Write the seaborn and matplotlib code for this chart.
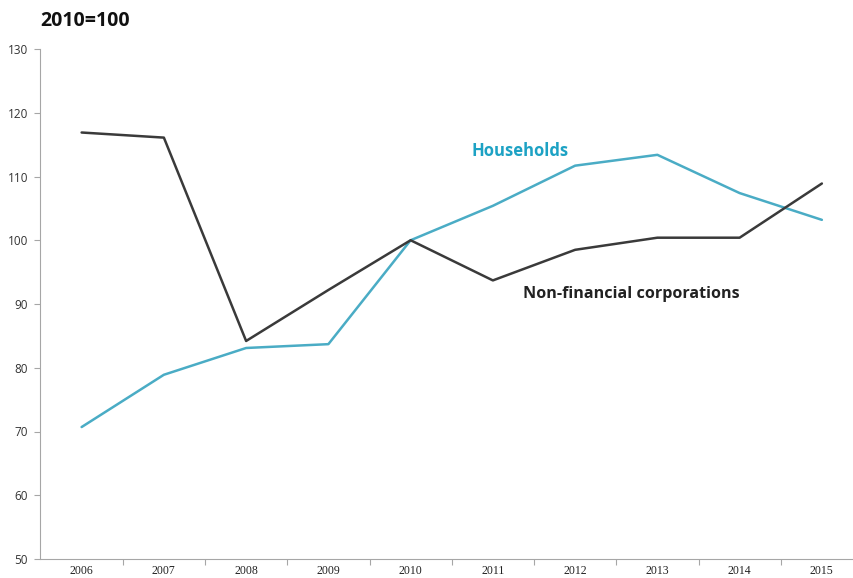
import numpy as np
import pandas as pd
from matplotlib import pyplot as plt
import seaborn as sns
from matplotlib.ticker import FixedLocator

years = ["2006", "2007", "2008", "2009", "2010", "2011", "2012", "2013", "2014", "2015"]
households = [70.7, 78.9, 83.1, 83.7, 100.0, 105.4, 111.7, 113.4, 107.4, 103.2]
non_financial = [116.9, 116.1, 84.2, 92.2, 100.0, 93.7, 98.5, 100.4, 100.4, 108.9]
series_names = ["Households", "Non-financial corporations"]
y_ticks = [50, 60, 70, 80, 90, 100, 110, 120, 130]


def main():
    sns.set_style("white")
    plt.rcParams["font.family"] = ["Open Sans", "DejaVu Sans"]

    pos = np.arange(len(years))
    df = pd.DataFrame({
        "pos": np.concatenate([pos, pos]),
        "value": households + non_financial,
        "series": [series_names[0]] * len(years) + [series_names[1]] * len(years),
    })

    my_dpi = 100
    fig = plt.figure(figsize=(854 / my_dpi, 578 / my_dpi), dpi=my_dpi)
    ax = fig.add_axes([40.5 / 854, 19 / 578, 822.5 / 854, 510 / 578])

    palette = {series_names[0]: "#4aacc5", series_names[1]: "#3a3a3a"}
    sns.lineplot(data=df, x="pos", y="value", hue="series", palette=palette,
                 linewidth=1.8, legend=False, ax=ax)

    ax.set_xlim(-0.5, len(years) - 0.5)
    ax.set_ylim(50, 130)
    ax.set_xlabel("")
    ax.set_ylabel("")

    ax.set_xticks(pos)
    ax.set_xticklabels(years, family="Liberation Serif", fontsize=8.5, color="#222222")
    ax.xaxis.set_minor_locator(FixedLocator(pos[:-1] + 0.5))
    ax.tick_params(axis="x", which="major", length=0, pad=4)
    ax.tick_params(axis="x", which="minor", length=4, color="#a6a6a6", width=0.8, direction="out", bottom=True)

    ax.set_yticks(y_ticks)
    ax.set_yticklabels([str(t) for t in y_ticks], fontsize=8.5, color="#333333")
    ax.tick_params(axis="y", length=4, color="#a6a6a6", width=0.8, direction="out", left=True, pad=5)

    for side in ["top", "right"]:
        ax.spines[side].set_visible(False)
    for side in ["left", "bottom"]:
        ax.spines[side].set_color("#a6a6a6")
        ax.spines[side].set_linewidth(0.8)

    ax.text(4.74, 114.0, "Households", color="#1da2c4", fontsize=12, fontweight="bold",
            ha="left", va="center")
    ax.text(5.37, 91.6, "Non-financial corporations", color="#222222", fontsize=11.6,
            fontweight="bold", ha="left", va="center")

    fig.text(40 / 854, 1 - 21 / 578, "2010=100", fontsize=14, fontweight="bold",
             ha="left", va="center", color="#111111")

    plt.savefig("out.png", dpi=my_dpi)


if __name__ == "__main__":
    main()
